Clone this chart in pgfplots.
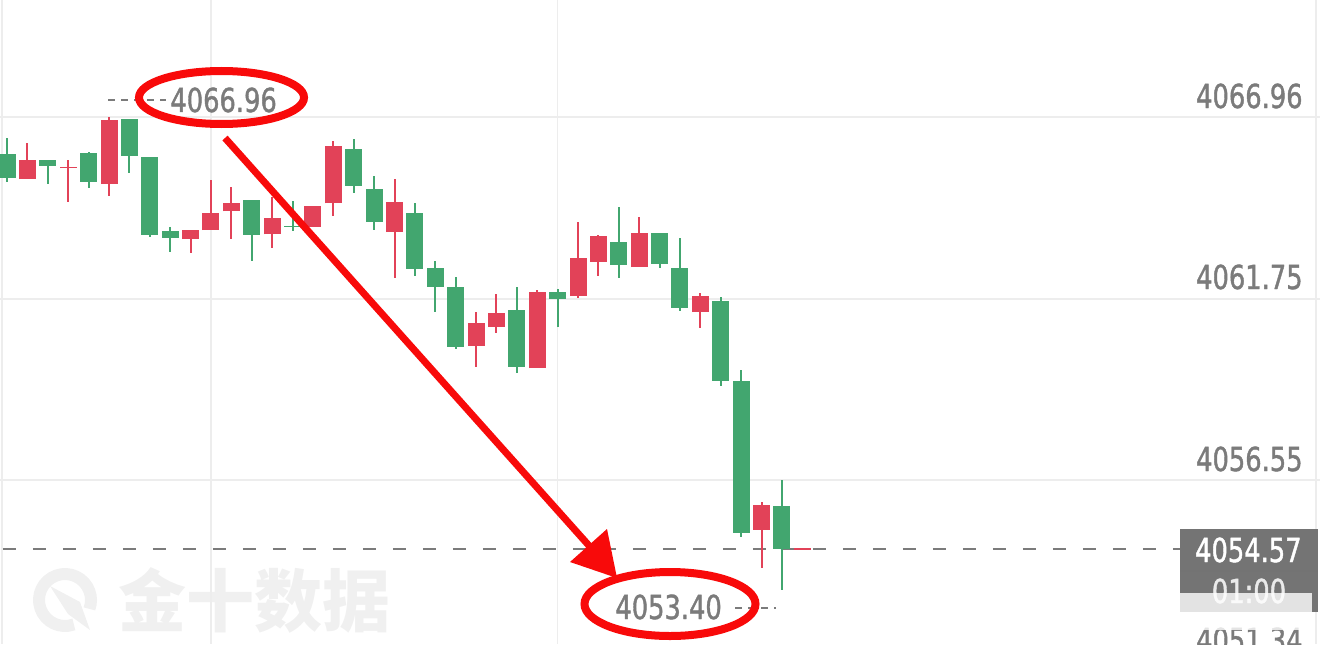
\documentclass[border=0pt]{standalone}
\usepackage{pgfplots}
\pgfplotsset{compat=1.18}
\usepackage{fontspec}
\setmainfont{DejaVu Sans}[FakeStretch=0.78, FakeBold=1.2]
\newfontfamily\cjk{Noto Sans CJK SC}
\definecolor{up}{HTML}{E24258}
\definecolor{down}{HTML}{42A66F}
\definecolor{gridc}{HTML}{EDEDED}
\definecolor{lbl}{HTML}{7B7B7B}
\definecolor{boxc}{HTML}{747474}
\definecolor{annored}{HTML}{F80A0A}
\definecolor{wm}{HTML}{F0F0F0}

\begin{document}
\begin{tikzpicture}
\useasboundingbox (0,0) rectangle (660pt,322pt);

% watermark (behind everything)
\begin{scope}[x=0.5pt,y=-0.5pt,yshift=322pt]
  \draw[wm, line width=6pt] (65,600) ++(70:26) arc[start angle=70, end angle=380, radius=26];
  \fill[wm] (50,586) -- (80,602) -- (90,630) -- (68,614) -- cycle;
  \node[text=wm, font=\cjk\bfseries\fontsize{34pt}{34pt}\selectfont] at (254,600) {金十数据};
\end{scope}

\begin{axis}[
    at={(0,0)}, anchor=south west,
    width=660pt, height=322pt, scale only axis,
    xmin=-0.348, xmax=64.39,
    ymin=4051.85, ymax=4070.32,
    axis line style={draw=none},
    xtick={-0.25,10,27,64.19},
    ytick={4051.34,4056.55,4061.75,4066.96},
    xmajorticks=false, ymajorticks=false,
    xmajorgrids, ymajorgrids,
    grid style={color=gridc, line width=0.8pt},
    unbounded coords=jump,
]

% last price line
\draw[lbl, line width=1pt, dash pattern=on 6.5pt off 8.5pt, dash phase=-1.5pt]
  (axis cs:-0.35,4054.57) -- (axis cs:57.52,4054.57);

% falling candles (green): wicks low-high, bodies open-close
\addplot[down, line width=1pt] coordinates {
 (0,4066.36)(0,4065.10) (0,nan)
 (2,4065.73)(2,4065.04) (2,nan)
 (4,4065.96)(4,4064.92) (4,nan)
 (6,4066.90)(6,4065.35) (6,nan)
 (7,4065.81)(7,4063.52) (7,nan)
 (8,4063.81)(8,4063.09) (8,nan)
 (12,4064.58)(12,4062.83) (12,nan)
 (14,4064.55)(14,4063.69) (14,nan)
 (17,4066.33)(17,4064.78) (17,nan)
 (18,4065.27)(18,4063.72) (18,nan)
 (20,4064.49)(20,4062.40) (20,nan)
 (21,4062.83)(21,4061.37) (21,nan)
 (22,4062.37)(22,4060.31) (22,nan)
 (25,4062.08)(25,4059.62) (25,nan)
 (27,4062.03)(27,4060.94) (27,nan)
 (30,4064.38)(30,4062.34) (30,nan)
 (32,4063.63)(32,4062.63) (32,nan)
 (33,4063.49)(33,4061.40) (33,nan)
 (35,4061.80)(35,4059.25) (35,nan)
 (36,4059.70)(36,4054.92) (36,nan)
 (38,4056.55)(38,4053.40)
};
\addplot[down, line width=8.5pt, line cap=butt] coordinates {
 (0,4065.90)(0,4065.21) (0,nan)
 (2,4065.73)(2,4065.55) (2,nan)
 (4,4065.93)(4,4065.10) (4,nan)
 (6,4066.90)(6,4065.84) (6,nan)
 (7,4065.81)(7,4063.58) (7,nan)
 (8,4063.69)(8,4063.49) (8,nan)
 (12,4064.58)(12,4063.58) (12,nan)
 (14,4063.84)(14,4063.80) (14,nan)
 (17,4066.04)(17,4064.98) (17,nan)
 (18,4064.89)(18,4063.95) (18,nan)
 (20,4064.21)(20,4062.60) (20,nan)
 (21,4062.63)(21,4062.08) (21,nan)
 (22,4062.08)(22,4060.37) (22,nan)
 (25,4061.42)(25,4059.79) (25,nan)
 (27,4061.94)(27,4061.74) (27,nan)
 (30,4063.37)(30,4062.72) (30,nan)
 (32,4063.63)(32,4062.74) (32,nan)
 (33,4062.63)(33,4061.48) (33,nan)
 (35,4061.68)(35,4059.39) (35,nan)
 (36,4059.39)(36,4055.03) (36,nan)
 (38,4055.81)(38,4054.57)
};

% rising candles (red)
\addplot[up, line width=1pt] coordinates {
 (1,4066.21)(1,4065.18) (1,nan)
 (3,4065.73)(3,4064.52) (3,nan)
 (5,4066.96)(5,4064.69) (5,nan)
 (9,4063.72)(9,4063.06) (9,nan)
 (10,4065.15)(10,4063.72) (10,nan)
 (11,4064.95)(11,4063.46) (11,nan)
 (13,4064.67)(13,4063.20) (13,nan)
 (15,4064.41)(15,4063.81) (15,nan)
 (16,4066.27)(16,4064.12) (16,nan)
 (19,4065.18)(19,4062.34) (19,nan)
 (23,4061.37)(23,4059.79) (23,nan)
 (24,4061.88)(24,4060.77) (24,nan)
 (26,4062.00)(26,4059.76) (26,nan)
 (28,4063.95)(28,4061.77) (28,nan)
 (29,4063.58)(29,4062.40) (29,nan)
 (31,4064.09)(31,4062.66) (31,nan)
 (34,4061.91)(34,4060.92) (34,nan)
 (37,4055.92)(37,4054.03)
};
\addplot[up, line width=8.5pt, line cap=butt] coordinates {
 (1,4065.18)(1,4065.73) (1,nan)
 (3,4065.50)(3,4065.54) (3,nan)
 (5,4065.04)(5,4066.87) (5,nan)
 (9,4063.46)(9,4063.72) (9,nan)
 (10,4063.72)(10,4064.21) (10,nan)
 (11,4064.26)(11,4064.49) (11,nan)
 (13,4063.60)(13,4064.06) (13,nan)
 (15,4063.81)(15,4064.41) (15,nan)
 (16,4064.49)(16,4066.13) (16,nan)
 (19,4063.66)(19,4064.52) (19,nan)
 (23,4060.40)(23,4061.05) (23,nan)
 (24,4060.94)(24,4061.34) (24,nan)
 (26,4059.76)(26,4061.94) (26,nan)
 (28,4061.83)(28,4062.92) (28,nan)
 (29,4062.80)(29,4063.55) (29,nan)
 (31,4062.66)(31,4063.63) (31,nan)
 (34,4061.37)(34,4061.83) (34,nan)
 (37,4055.12)(37,4055.83) (37,nan)
 (39,4054.55)(39,4054.60)
};
\end{axis}

% overlays in image pixel units (1px = 0.5pt, y downwards)
\begin{scope}[x=0.5pt,y=-0.5pt,yshift=322pt,
    lab/.style={text=lbl, inner sep=0pt, font=\fontsize{16.5pt}{16.5pt}\selectfont}]
  % price scale labels
  \node[lab, anchor=base east] at (1303,108) {4066.96};
  \node[lab, anchor=base east] at (1303,289) {4061.75};
  \node[lab, anchor=base east] at (1303,471) {4056.55};
  \node[lab, anchor=base east] at (1303,652) {4051.34};

  % high / low markers
  \draw[lbl, line width=1pt, dash pattern=on 3.5pt off 3pt] (108,100.5) -- (166,100.5);
  \node[lab, anchor=base west] at (170,112) {4066.96};
  \node[lab, anchor=base west] at (615,619) {4053.40};
  \draw[lbl, line width=1pt, dash pattern=on 3.5pt off 3pt] (735,607.5) -- (776,607.5);

  % last price box
  \fill[boxc] (1180,529) rectangle (1318,570);
  \node[lab, text=white, anchor=base east] at (1302,562) {4054.57};
  \fill[boxc] (1180,572) rectangle (1318,612);
  \draw[black!55, line width=0.6pt] (1180,571) -- (1318,571);
  \node[lab, text=white!85!boxc, anchor=base] at (1249,603) {01:00};
  \fill[white, opacity=0.8] (1015,593) rectangle (1312,630);

  % red annotation
  \draw[annored, line width=3.5pt] (225,138) -- (592,549);
  \fill[annored] (617,578) -- (570,562) -- (607,529) -- cycle;
  \draw[annored, line width=4pt] (221.5,97.5) ellipse [x radius=82.5, y radius=26.5];
  \draw[annored, line width=4pt] (670,604) ellipse [x radius=85.5, y radius=32];
\end{scope}
\end{tikzpicture}
\end{document}
